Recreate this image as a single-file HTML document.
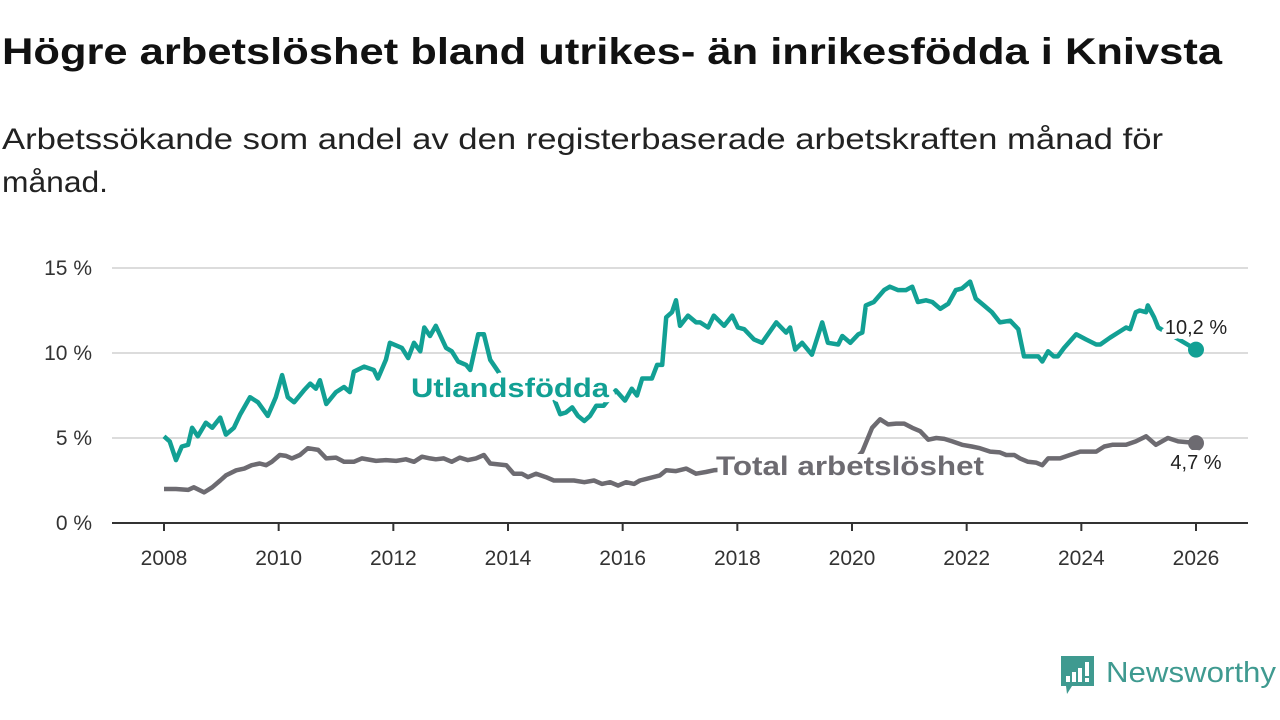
<!DOCTYPE html>
<html><head><meta charset="utf-8"><style>
html,body{margin:0;padding:0;background:#fff;width:1280px;height:720px;overflow:hidden}
svg{display:block}
text{font-family:"Liberation Sans",sans-serif}
</style></head><body>
<svg id="chart" width="1280" height="720" viewBox="0 0 1280 720" xmlns="http://www.w3.org/2000/svg">
<text x="2" y="64" font-size="37" font-weight="bold" fill="#111" textLength="1220" lengthAdjust="spacingAndGlyphs">Högre arbetslöshet bland utrikes- än inrikesfödda i Knivsta</text>
<text x="2" y="149" font-size="30" fill="#222" textLength="1161" lengthAdjust="spacingAndGlyphs">Arbetssökande som andel av den registerbaserade arbetskraften månad för</text>
<text x="2" y="192" font-size="30" fill="#222" textLength="106" lengthAdjust="spacingAndGlyphs">månad.</text>
<g id="grid"></g>
<g id="xaxis"></g>
<g id="series"></g>
<g id="labels"></g>
<g>
<path d="M1061 656 h33 v30 h-22 l-5 8 l-1 -8 h-5 z" fill="#3f9a90"/>
<rect x="1066" y="676" width="4" height="6" fill="#fff"/>
<rect x="1072" y="672" width="4" height="10" fill="#fff"/>
<rect x="1078" y="668" width="4" height="14" fill="#fff"/>
<rect x="1085" y="662" width="4" height="14" fill="#fff"/>
<rect x="1085" y="678" width="4" height="4" fill="#fff"/>
<text x="1106" y="682" font-size="29" fill="#3f9a90" textLength="170" lengthAdjust="spacingAndGlyphs">Newsworthy</text>
</g>
</svg>
<script>
const yTicks=[0,5,10,15];
const yTickLabels=["0 %","5 %","10 %","15 %"];
const xTicks=[2008,2010,2012,2014,2016,2018,2020,2022,2024,2026];
const utlDates=[2008,2008.10,2008.21,2008.31,2008.42,2008.49,2008.59,2008.73,2008.84,2008.98,2009.08,2009.22,2009.33,2009.50,2009.64,2009.81,2009.95,2010.06,2010.16,2010.27,2010.44,2010.55,2010.65,2010.72,2010.83,2011.00,2011.14,2011.24,2011.31,2011.49,2011.66,2011.73,2011.87,2011.94,2012.15,2012.26,2012.36,2012.47,2012.54,2012.64,2012.74,2012.92,2013.02,2013.13,2013.27,2013.34,2013.48,2013.58,2013.69,2013.83,2013.95,2014.07,2014.38,2014.77,2014.91,2015.01,2015.12,2015.22,2015.33,2015.43,2015.54,2015.67,2015.88,2016.04,2016.16,2016.25,2016.34,2016.51,2016.60,2016.69,2016.76,2016.86,2016.93,2017.00,2017.14,2017.28,2017.35,2017.49,2017.59,2017.77,2017.91,2018.01,2018.12,2018.29,2018.43,2018.68,2018.85,2018.92,2019.01,2019.13,2019.30,2019.48,2019.58,2019.76,2019.83,2019.97,2020.11,2020.18,2020.24,2020.38,2020.56,2020.66,2020.80,2020.94,2021.05,2021.15,2021.29,2021.40,2021.54,2021.68,2021.81,2021.92,2022.06,2022.16,2022.30,2022.44,2022.58,2022.76,2022.90,2023.00,2023.11,2023.25,2023.32,2023.42,2023.52,2023.59,2023.70,2023.91,2024.08,2024.26,2024.33,2024.50,2024.64,2024.78,2024.85,2024.95,2025.02,2025.13,2025.16,2025.27,2025.34,2025.65,2026.00];
const utlValues=[5.1,4.8,3.7,4.5,4.6,5.6,5.1,5.9,5.6,6.2,5.2,5.6,6.4,7.4,7.1,6.3,7.4,8.7,7.4,7.1,7.8,8.2,7.9,8.4,7.0,7.7,8.0,7.7,8.9,9.2,9.0,8.5,9.6,10.6,10.3,9.7,10.6,10.1,11.5,11.0,11.6,10.3,10.1,9.5,9.3,9.0,11.1,11.1,9.6,8.9,8.3,8.0,8.0,7.6,6.4,6.5,6.8,6.3,6.0,6.3,6.9,6.9,7.8,7.2,7.9,7.5,8.5,8.5,9.3,9.3,12.1,12.4,13.1,11.6,12.2,11.8,11.8,11.5,12.2,11.6,12.2,11.5,11.4,10.8,10.6,11.8,11.2,11.5,10.2,10.6,9.9,11.8,10.6,10.5,11.0,10.6,11.1,11.2,12.8,13.0,13.7,13.9,13.7,13.7,13.9,13.0,13.1,13.0,12.6,12.9,13.7,13.8,14.2,13.2,12.8,12.4,11.8,11.9,11.4,9.8,9.8,9.8,9.5,10.1,9.8,9.8,10.3,11.1,10.8,10.5,10.5,10.9,11.2,11.5,11.4,12.4,12.5,12.4,12.8,12.1,11.5,10.9,10.2];
const totDates=[2008,2008.21,2008.42,2008.52,2008.70,2008.84,2008.98,2009.08,2009.26,2009.40,2009.53,2009.67,2009.78,2009.88,2010.02,2010.13,2010.23,2010.37,2010.51,2010.69,2010.83,2011.00,2011.14,2011.31,2011.45,2011.70,2011.87,2012.05,2012.22,2012.36,2012.50,2012.64,2012.74,2012.88,2013.02,2013.16,2013.30,2013.44,2013.58,2013.69,2013.97,2014.10,2014.24,2014.35,2014.49,2014.66,2014.80,2014.94,2015.15,2015.33,2015.50,2015.64,2015.78,2015.92,2016.06,2016.20,2016.30,2016.65,2016.76,2016.93,2017.11,2017.28,2017.45,2017.59,2018.40,2019.27,2019.97,2020.18,2020.35,2020.49,2020.63,2020.77,2020.91,2021.05,2021.19,2021.33,2021.47,2021.61,2021.75,2021.92,2022.09,2022.23,2022.41,2022.58,2022.69,2022.83,2022.93,2023.07,2023.21,2023.32,2023.42,2023.63,2023.80,2023.98,2024.26,2024.40,2024.54,2024.78,2024.95,2025.13,2025.30,2025.51,2025.69,2025.86,2026.00];
const totValues=[2.0,2.0,1.95,2.1,1.8,2.1,2.5,2.8,3.1,3.2,3.4,3.5,3.4,3.6,4.0,3.95,3.8,4.0,4.4,4.3,3.8,3.85,3.6,3.6,3.8,3.65,3.7,3.65,3.75,3.6,3.9,3.8,3.75,3.8,3.6,3.85,3.7,3.8,4.0,3.5,3.4,2.9,2.9,2.7,2.9,2.7,2.5,2.5,2.5,2.4,2.5,2.3,2.4,2.2,2.4,2.3,2.5,2.8,3.1,3.05,3.2,2.9,3.0,3.1,3.3,3.4,3.4,4.2,5.6,6.1,5.8,5.85,5.85,5.6,5.4,4.9,5.0,4.95,4.8,4.6,4.5,4.4,4.2,4.15,4.0,4.0,3.8,3.6,3.55,3.4,3.8,3.8,4.0,4.2,4.2,4.5,4.6,4.6,4.8,5.1,4.6,5.0,4.8,4.75,4.7];
const NS="http://www.w3.org/2000/svg";
const X0=164,X1=1196,Y0=523,PPV=17;
function xs(t){return X0+(t-2008)*(X1-X0)/18;}
function ys(v){return Y0-v*PPV;}
function mk(tag,attrs,parent,txt){const e=document.createElementNS(NS,tag);for(const k in attrs)e.setAttribute(k,attrs[k]);if(txt!==undefined)e.textContent=txt;parent.appendChild(e);return e;}
const grid=document.getElementById('grid');
yTicks.forEach((v,i)=>{
 if(v>0){const l=mk('line',{x1:112,x2:1248,y1:ys(v),y2:ys(v),stroke:'#dcdcdc','stroke-width':2},grid);
 
 }
 const t=mk('text',{x:92,y:ys(v)+7,'text-anchor':'end','font-size':21,fill:'#333'},grid,yTickLabels[i]);
 
 
});
const xa=document.getElementById('xaxis');
const al=mk('line',{x1:112,x2:1248,y1:Y0,y2:Y0,stroke:'#333','stroke-width':2},xa);


xTicks.forEach(y=>{
 const tk=mk('line',{x1:xs(y),x2:xs(y),y1:Y0,y2:Y0+8,stroke:'#333','stroke-width':2},xa);
 
 
 const t=mk('text',{x:xs(y),y:Y0+42,'text-anchor':'middle','font-size':21,fill:'#333'},xa,String(y));
 
 
});
const sg=document.getElementById('series');
function line(d,v,color,name){
 const p=mk('path',{d:d.map((t,i)=>(i?'L':'M')+xs(t).toFixed(1)+' '+ys(v[i]).toFixed(1)).join(''),fill:'none',stroke:color,'stroke-width':4.5,'stroke-linejoin':'round'},sg);
 
 
 const c=mk('circle',{cx:xs(d[d.length-1]),cy:ys(v[v.length-1]),r:8,fill:color},sg);
 
 
}
line(totDates,totValues,'#6d6b71','total-line');
line(utlDates,utlValues,'#12a094','utlandsfodda-line');
const lg=document.getElementById('labels');
const bg=mk('rect',{x:718,y:454,width:264,height:26,fill:'#fff'},lg);


function lab(x,y,s,fs,fw,col,anchor,name,len){
 const a={x:x,y:y,'font-size':fs,'font-weight':fw,fill:col,stroke:'#fff','stroke-width':10,'paint-order':'stroke','stroke-linejoin':'round','text-anchor':anchor};
 if(len){a.textLength=len;a.lengthAdjust='spacingAndGlyphs';}
 const t=mk('text',a,lg,s);
 
 
}
lab(411,397,'Utlandsfödda',27,'bold','#12a094','start','utlandsfodda-label',198);
lab(716,475,'Total arbetslöshet',27,'bold','#6d6b71','start','total-label',268);
lab(1196,334,'10,2 %',20,'normal','#222','middle','utlandsfodda-end-value');
lab(1196,469,'4,7 %',20,'normal','#222','middle','total-end-value');
</script>
</body></html>
